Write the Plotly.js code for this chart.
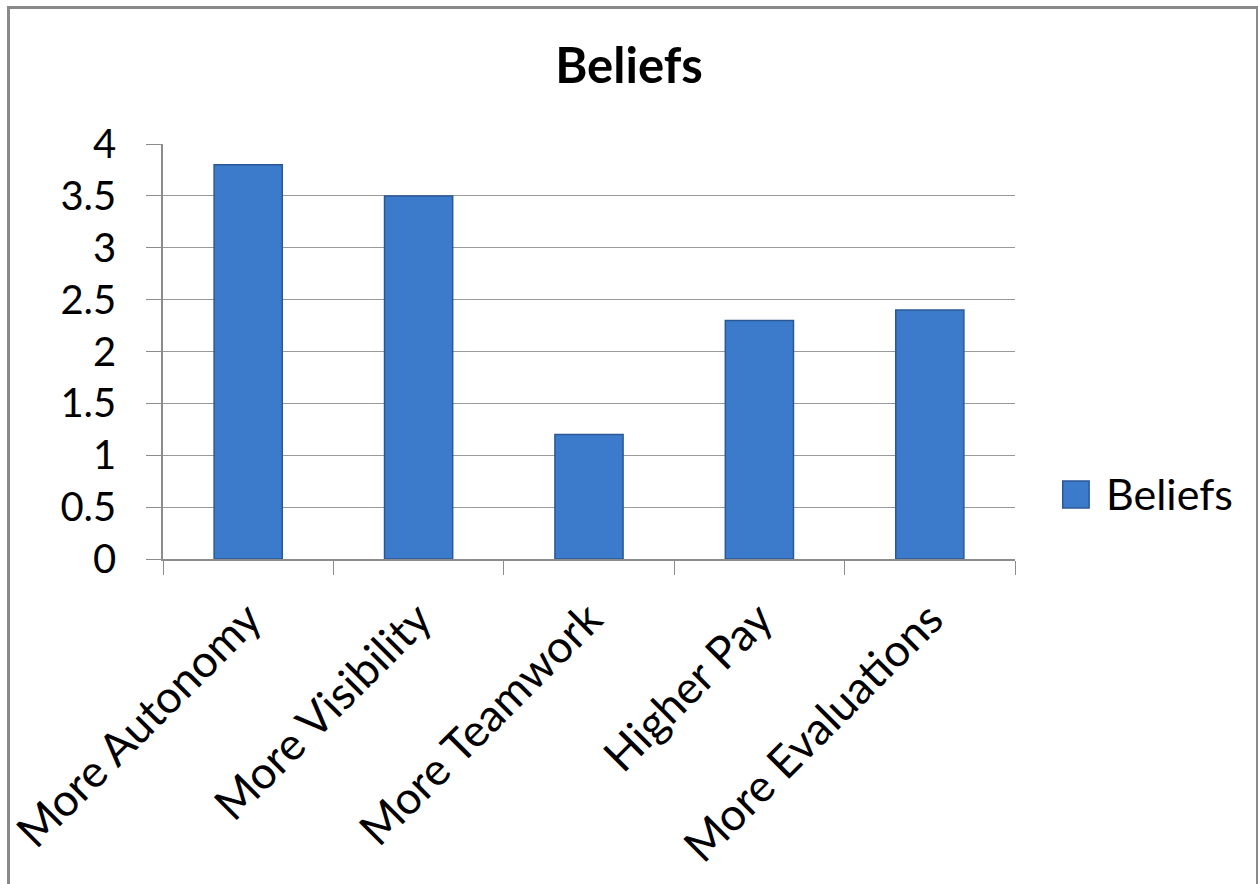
<!DOCTYPE html>
<html><head><meta charset="utf-8">
<script src="https://cdn.plot.ly/plotly-3.0.1.min.js"></script>
<style>html,body{margin:0;padding:0;background:#fff;overflow:hidden;}
#wrap{position:relative;width:1258px;height:884px;}
#frame{position:absolute;left:7px;top:6px;width:1246px;height:890px;border:3px solid #8a8a8a;pointer-events:none;}
</style></head>
<body><div id="wrap"><div id="chart" style="width:1258px;height:884px;"></div><div id="frame"></div></div>
<script>
const categories = ["More Autonomy", "More Visibility", "More Teamwork", "Higher Pay", "More Evaluations"];
const beliefs = [3.8, 3.5, 1.2, 2.3, 2.4];
const yTicks = [0, 0.5, 1, 1.5, 2, 2.5, 3, 3.5, 4];
const seriesName = "Beliefs";
const font = "Lato, 'Open Sans', sans-serif";
Plotly.newPlot('chart', [{
  type: 'bar', x: categories, y: beliefs, name: seriesName, showlegend: false,
  marker: {color: '#3c7bcb', line: {color: '#2a5895', width: 1.5}},
  width: 0.4
}], {
  width: 1258, height: 884,
  margin: {l: 163, r: 243, t: 144, b: 325},
  paper_bgcolor: '#fff', plot_bgcolor: '#fff',
  title: {text: '<b>' + seriesName + '</b>', font: {family: font, size: 49, color: '#000'}, x: 0.5, xanchor: 'center', y: 0.925, yanchor: 'middle'},
  font: {family: font, color: '#000'},
  xaxis: {tickangle: -45, tickfont: {size: 45, family: font}, showline: true, linecolor: '#8c8c8c', linewidth: 1.5,
          ticks: 'outside', tickson: 'boundaries', ticklen: 14, tickcolor: '#8c8c8c', showgrid: false, ticklabelstandoff: 14},
  yaxis: {range: [0, 4], tickvals: yTicks, ticktext: yTicks.map(String), tickfont: {size: 40, family: font},
          showgrid: true, gridcolor: '#9a9a9a', gridwidth: 1.2, showline: true, linecolor: '#8c8c8c', linewidth: 1.5,
          zeroline: false, ticks: 'outside', ticklen: 15, tickcolor: '#8c8c8c', ticklabelstandoff: 22},
  shapes: [{type: 'rect', xref: 'paper', yref: 'paper', x0: 1.056, x1: 1.087, y0: 0.123, y1: 0.188,
            fillcolor: '#3c7bcb', line: {color: '#2a5895', width: 1.5}}],
  annotations: [{xref: 'paper', yref: 'paper', x: 1.104, y: 0.157, xanchor: 'left', yanchor: 'middle',
                 text: seriesName, showarrow: false, font: {size: 43, family: font, color: '#000'}}]
}, {displayModeBar: false});
</script></body></html>
